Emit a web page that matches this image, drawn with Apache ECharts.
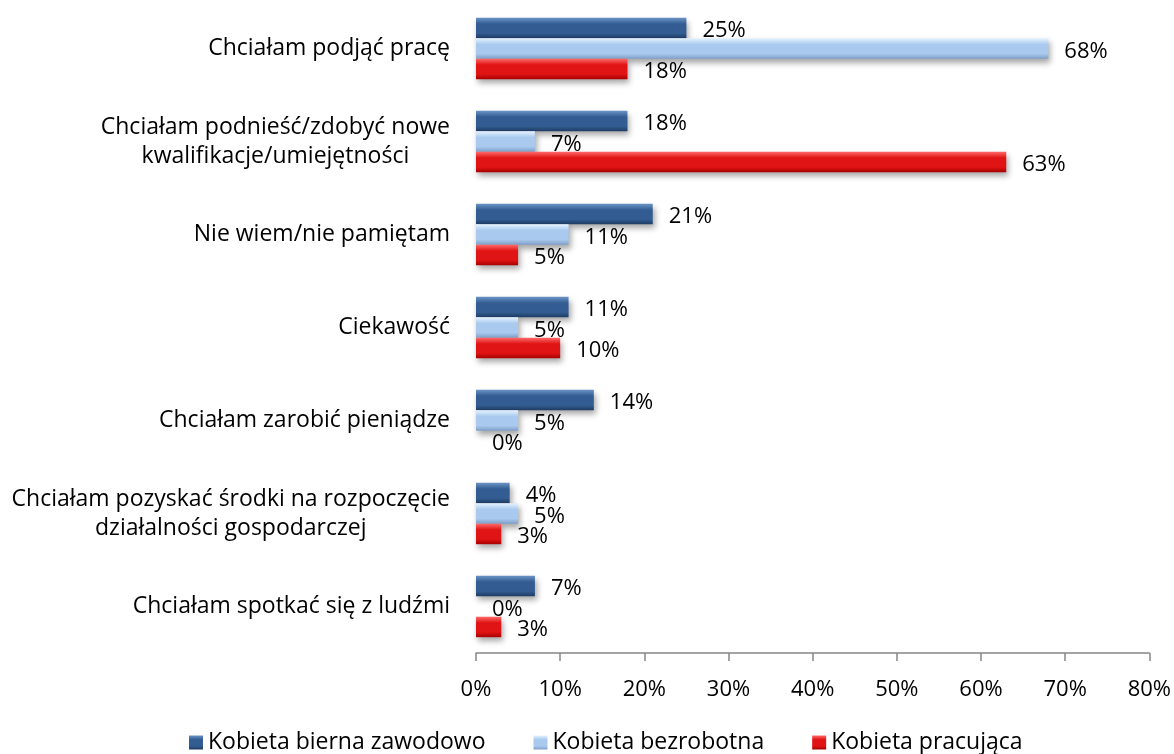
<!DOCTYPE html>
<html>
<head>
<meta charset="utf-8">
<script src="https://cdn.jsdelivr.net/npm/echarts@6/dist/echarts.min.js"></script>
<style>
  html, body { margin: 0; padding: 0; background: #fff; }
  #chart { width: 1174px; height: 754px; }
</style>
</head>
<body>
<div id="chart"></div>
<script>
const categories = [
  "Chciałam podjąć pracę",
  "Chciałam podnieść/zdobyć nowe\nkwalifikacje/umiejętności",
  "Nie wiem/nie pamiętam",
  "Ciekawość",
  "Chciałam zarobić pieniądze",
  "Chciałam pozyskać środki na rozpoczęcie\ndziałalności gospodarczej",
  "Chciałam spotkać się z ludźmi",
]
const seriesNames = ["Kobieta bierna zawodowo", "Kobieta bezrobotna", "Kobieta pracująca"]
const biernaValues = [25, 18, 21, 11, 14, 4, 7]
const bezrobotnaValues = [68, 7, 11, 5, 5, 5, 0]
const pracujacaValues = [18, 63, 5, 10, 0, 3, 3]
const xTicks = { min: 0, max: 80, interval: 10 }

const FONT = "Open Sans"

// pionowy gradient imitujący fazowane słupki z Excela
function bevel(top, mid, bottom) {
  return new echarts.graphic.LinearGradient(0, 0, 0, 1, [
    { offset: 0, color: top },
    { offset: 0.3, color: mid },
    { offset: 0.75, color: mid },
    { offset: 1, color: bottom },
  ])
}

const styles = [
  { color: bevel("#6a93c6", "#335d92", "#1e3b63") },
  { color: bevel("#e4f3ff", "#a9caee", "#7f9fca") },
  { color: bevel("#ff6a6a", "#e01414", "#a80000") },
]

function makeSeries(name, values, idx) {
  return {
    name,
    type: "bar",
    data: values,
    barGap: "0%",
    barCategoryGap: "34%",
    itemStyle: {
      color: styles[idx].color,
      borderWidth: 0,
      shadowColor: "rgba(0,0,0,0.35)",
      shadowBlur: 6,
      shadowOffsetY: 4,
      shadowOffsetX: 2,
    },
    label: {
      show: true,
      position: "right",
      distance: 16,
      offset: [0, 3],
      formatter: p => p.value + "%",
      fontFamily: FONT,
      fontSize: 22,
      color: "#000",
    },
    z: 2 + idx,
  }
}

const chart = echarts.init(document.getElementById("chart"), null, { renderer: "canvas" })

chart.setOption({
  animation: false,
  backgroundColor: "#fff",
  grid: { left: 476, right: 24, top: 2, bottom: 101 },
  legend: {
    left: 184,
    top: 726,
    itemWidth: 14,
    itemHeight: 14,
    itemGap: 48,
    icon: "rect",
    textStyle: { fontFamily: FONT, fontSize: 23, color: "#000" },
    data: seriesNames,
  },
  xAxis: {
    type: "value",
    min: xTicks.min,
    max: xTicks.max,
    interval: xTicks.interval,
    axisLine: { show: true, lineStyle: { color: "#868686", width: 1.5 } },
    axisTick: { show: true, length: 8, lineStyle: { color: "#868686", width: 1.5 } },
    splitLine: { show: false },
    axisLabel: {
      formatter: "{value}%",
      margin: 26,
      fontFamily: FONT,
      fontSize: 22,
      color: "#000",
    },
  },
  yAxis: {
    type: "category",
    inverse: true,
    data: categories,
    axisLine: { show: false },
    axisTick: { show: false },
    axisLabel: {
      margin: 26,
      formatter: v => v.split("\n").map(s => "{c|" + s + "}").join("\n"),
      rich: {
        c: { align: "center", fontFamily: FONT, fontSize: 23, lineHeight: 29, color: "#000" },
      },
    },
  },
  series: [
    makeSeries(seriesNames[0], biernaValues, 0),
    makeSeries(seriesNames[1], bezrobotnaValues, 1),
    makeSeries(seriesNames[2], pracujacaValues, 2),
  ],
})
</script>
</body>
</html>
